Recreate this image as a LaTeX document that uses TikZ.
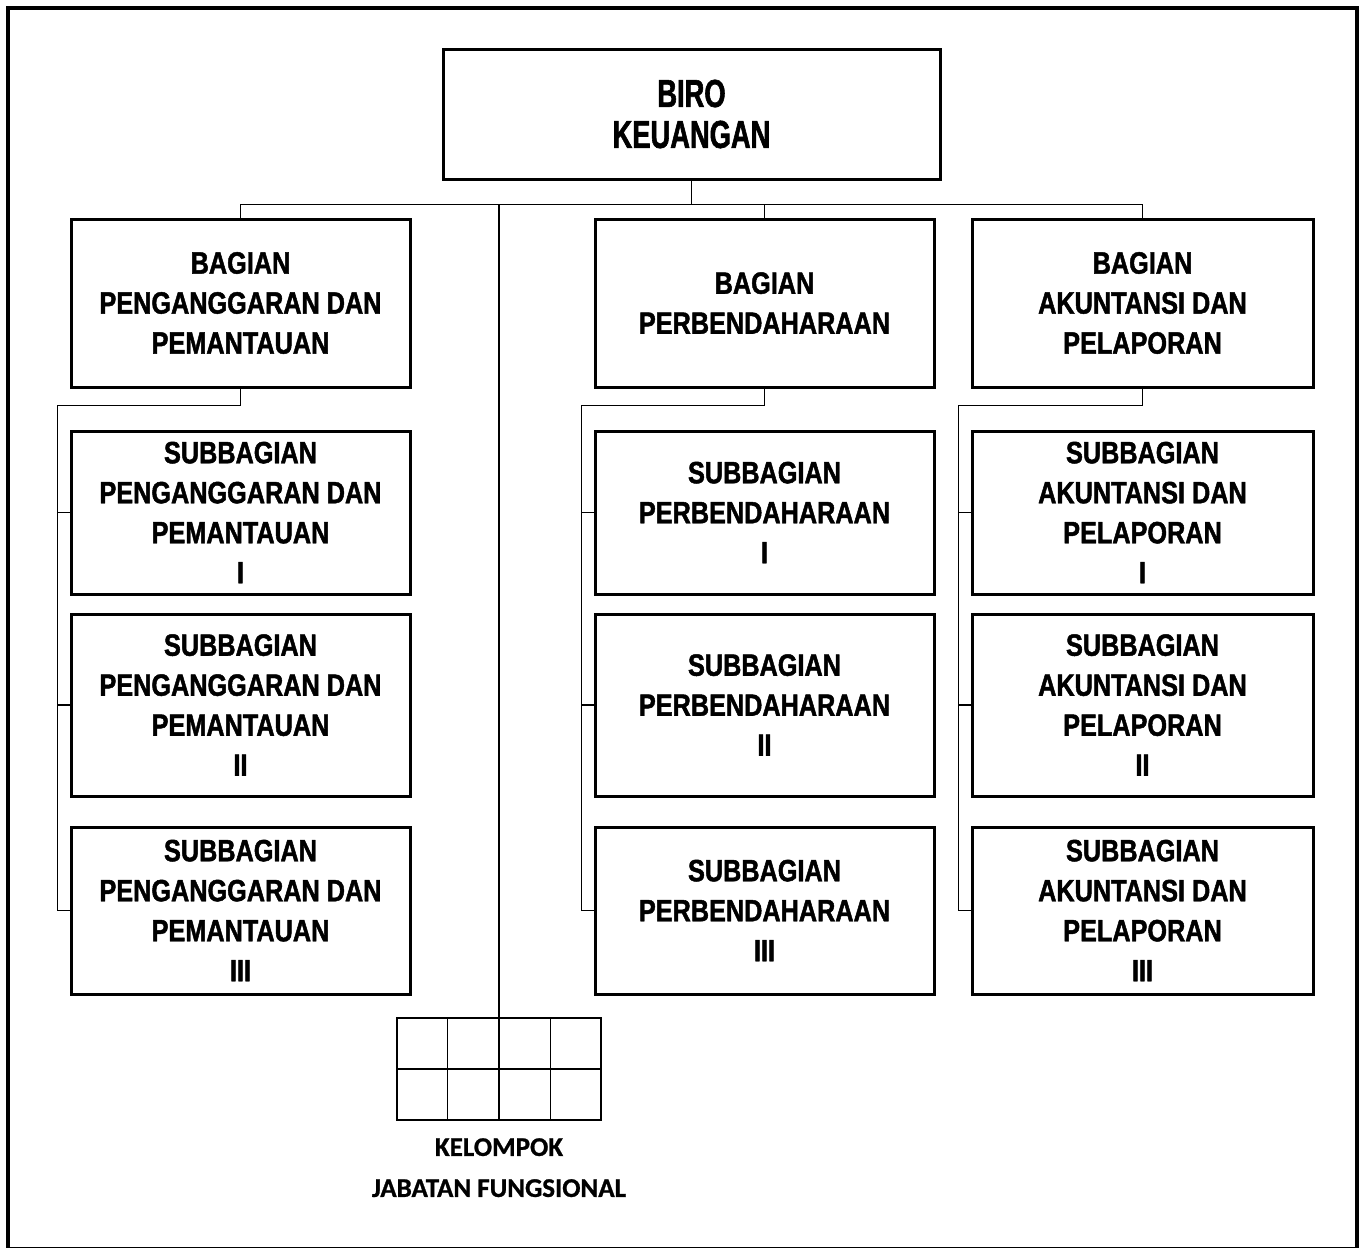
\documentclass[tikz,border=0pt]{standalone}
\usepackage{fontspec}
\setmainfont[FakeStretch=0.82, BoldFeatures={FakeBold=1.5}]{Liberation Sans}
\newfontfamily\birofont[FakeStretch=0.70, BoldFeatures={FakeBold=1.5}]{Liberation Sans}
\newfontfamily\kjffont[BoldFeatures={FakeBold=1}]{Carlito}
\usetikzlibrary{positioning, calc}

\begin{document}
\begin{tikzpicture}[x=0.5pt, y=-0.5pt,
    box/.style={draw, line width=1.5pt, rectangle, align=center, inner sep=0pt,
      font=\bfseries\fontsize{15.4}{20}\selectfont},
    bagbox/.style={box, minimum width=169.5pt, minimum height=84pt},
    link/.style={line width=0.65pt}]
      \useasboundingbox (0,0) rectangle (1362,1248);
      \draw[line width=2pt] (8,8) rectangle (1357,1249);

      % biro
      \node[box, minimum width=248.5pt, minimum height=65pt,
        font=\birofont\bfseries\fontsize{19.5}{20.5}\selectfont] (biro) at (691.5,114) {BIRO\\KEUANGAN};

      % bagian
      \node[bagbox] (bagA) at (240.5,303) {BAGIAN\\PENGANGGARAN DAN\\PEMANTAUAN};
      \node[bagbox] (bagB) at (764.5,303) {BAGIAN\\PERBENDAHARAAN};
      \node[bagbox, minimum width=170.5pt] (bagC) at (1142.5,303) {BAGIAN\\AKUNTANSI DAN\\PELAPORAN};

      % subbagian
      \node[box, minimum width=169.5pt, minimum height=81.5pt] (subA1) at (240.5,512.5) {SUBBAGIAN\\PENGANGGARAN DAN\\PEMANTAUAN\\I};
      \node[box, minimum width=169.5pt, minimum height=91pt] (subA2) at (240.5,705) {SUBBAGIAN\\PENGANGGARAN DAN\\PEMANTAUAN\\II};
      \node[box, minimum width=169.5pt, minimum height=83.5pt] (subA3) at (240.5,910.5) {SUBBAGIAN\\PENGANGGARAN DAN\\PEMANTAUAN\\III};

      \node[box, minimum width=169.5pt, minimum height=81.5pt] (subB1) at (764.5,512.5) {SUBBAGIAN\\PERBENDAHARAAN\\I};
      \node[box, minimum width=169.5pt, minimum height=91pt] (subB2) at (764.5,705) {SUBBAGIAN\\PERBENDAHARAAN\\II};
      \node[box, minimum width=169.5pt, minimum height=83.5pt] (subB3) at (764.5,910.5) {SUBBAGIAN\\PERBENDAHARAAN\\III};

      \node[box, minimum width=170.5pt, minimum height=81.5pt] (subC1) at (1142.5,512.5) {SUBBAGIAN\\AKUNTANSI DAN\\PELAPORAN\\I};
      \node[box, minimum width=170.5pt, minimum height=91pt] (subC2) at (1142.5,705) {SUBBAGIAN\\AKUNTANSI DAN\\PELAPORAN\\II};
      \node[box, minimum width=170.5pt, minimum height=83.5pt] (subC3) at (1142.5,910.5) {SUBBAGIAN\\AKUNTANSI DAN\\PELAPORAN\\III};

      % kelompok jabatan fungsional
      \node[draw, line width=0.8pt, minimum width=102pt, minimum height=51pt, inner sep=0pt] (kjf) at (499,1069) {};
      \foreach \i in {1,2,3}
        \draw[line width=0.8pt] ($(kjf.north west)!\i/4!(kjf.north east)$) -- ($(kjf.south west)!\i/4!(kjf.south east)$);
      \draw[line width=0.8pt] (kjf.west) -- (kjf.east);
      \node[below=8.5pt of kjf, inner sep=0pt, align=center,
        font=\kjffont\bfseries\fontsize{13.5}{20.5}\selectfont] (kjflabel) {KELOMPOK\\JABATAN FUNGSIONAL};

      % garis
      \draw[link] (biro.south) -- ++(0,24) coordinate (bus);
      \draw[link] (bagA.north) |- (bus) -| (bagC.north);
      \draw[link] (bagB.north) -- (bagB.north |- bus);
      \draw[link] (kjf.north) -- (kjf.north |- bus);
      \foreach \c in {A,B,C} {
        \draw[link] (bag\c.south) -- ++(0,17) -| ([xshift=-6pt]sub\c3.west) -- (sub\c3.west);
        \foreach \r in {1,2}
          \draw[link] ([xshift=-6pt]sub\c\r.west) -- (sub\c\r.west);
      }

    \end{tikzpicture}
\end{document}
